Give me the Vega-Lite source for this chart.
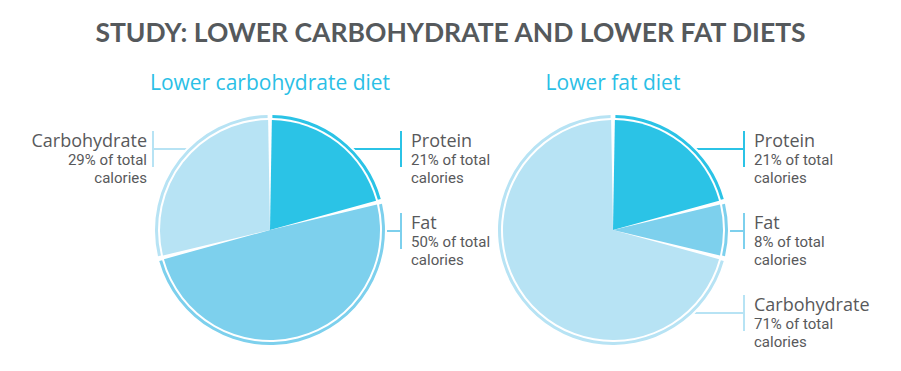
{
  "$schema": "https://vega.github.io/schema/vega-lite/v6.json",
  "width": 901,
  "height": 282,
  "autosize": {"type": "none"},
  "padding": {"top": 89, "left": 0, "right": 0, "bottom": 0},
  "background": "white",
  "title": {
    "text": "STUDY: LOWER CARBOHYDRATE AND LOWER FAT DIETS",
    "anchor": "middle",
    "frame": "group",
    "font": "Lato",
    "fontWeight": "bold",
    "fontSize": 26.5,
    "color": "#55595c",
    "baseline": "alphabetic",
    "offset": 5
  },
  "config": {"view": {"stroke": null}},
  "data": {
    "values": [
      {"diet": "Lower carbohydrate diet", "nutrient": "Protein", "pct": 21, "order": 1, "side": "right", "slot": 1},
      {"diet": "Lower carbohydrate diet", "nutrient": "Fat", "pct": 50, "order": 2, "side": "right", "slot": 2},
      {"diet": "Lower carbohydrate diet", "nutrient": "Carbohydrate", "pct": 29, "order": 3, "side": "left", "slot": 1},
      {"diet": "Lower fat diet", "nutrient": "Protein", "pct": 21, "order": 1, "side": "right", "slot": 1},
      {"diet": "Lower fat diet", "nutrient": "Fat", "pct": 8, "order": 2, "side": "right", "slot": 2},
      {"diet": "Lower fat diet", "nutrient": "Carbohydrate", "pct": 71, "order": 3, "side": "right", "slot": 3}
    ]
  },
  "transform": [
    {"calculate": "[datum.pct + '% of total', 'calories']", "as": "detail"},
    {"stack": "pct", "groupby": ["diet"], "sort": [{"field": "order", "order": "ascending"}], "as": ["t0", "t1"]}
  ],
  "encoding": {
    "x": {"field": "diet", "type": "nominal", "axis": null,
          "scale": {"type": "point", "domain": ["Lower carbohydrate diet", "Lower fat diet"], "range": [270, 613], "padding": 0}}
  },
  "layer": [
    {
      "transform": [{"filter": "datum.side == 'right'"}],
      "mark": {"type": "rule", "strokeWidth": 2, "xOffset": 0, "x2Offset": 131},
      "encoding": {
        "x2": {"field": "diet"},
        "y": {"field": "slot", "type": "ordinal", "axis": null, "scale": {"type": "point", "domain": [1, 2, 3], "range": [60, 224], "padding": 0}},
        "color": {"field": "nutrient", "type": "nominal", "legend": null,
                  "scale": {"domain": ["Protein", "Fat", "Carbohydrate"], "range": ["#2bc3e6", "#7dd0ed", "#b7e3f4"]}}
      }
    },
    {
      "transform": [{"filter": "datum.side == 'left'"}],
      "mark": {"type": "rule", "strokeWidth": 2, "xOffset": 0, "x2Offset": -117},
      "encoding": {
        "x2": {"field": "diet"},
        "y": {"field": "slot", "type": "ordinal"},
        "color": {"field": "nutrient", "type": "nominal"}
      }
    },
    {
      "mark": {"type": "arc", "outerRadius": 117, "color": "white"},
      "encoding": {
        "theta": {"field": "t0", "type": "quantitative", "scale": {"domain": [0, 100]}},
        "theta2": {"field": "t1"}
      }
    },
    {
      "mark": {"type": "arc", "innerRadius": 112, "outerRadius": 115, "padAngle": 0.03},
      "encoding": {
        "theta": {"field": "t0", "type": "quantitative"},
        "theta2": {"field": "t1"},
        "color": {"field": "nutrient", "type": "nominal"}
      }
    },
    {
      "mark": {"type": "arc", "outerRadius": 110, "padAngle": 0.034},
      "encoding": {
        "theta": {"field": "t0", "type": "quantitative"},
        "theta2": {"field": "t1"},
        "color": {"field": "nutrient", "type": "nominal"}
      }
    },
    {
      "transform": [{"filter": "datum.side == 'right'"}],
      "mark": {"type": "rule", "strokeWidth": 2, "xOffset": 131, "yOffset": -18, "y2Offset": 18},
      "encoding": {
        "y": {"field": "slot", "type": "ordinal"},
        "y2": {"field": "slot"},
        "color": {"field": "nutrient", "type": "nominal"}
      }
    },
    {
      "transform": [{"filter": "datum.side == 'left'"}],
      "mark": {"type": "rule", "strokeWidth": 2, "xOffset": -117, "yOffset": -18, "y2Offset": 18},
      "encoding": {
        "y": {"field": "slot", "type": "ordinal"},
        "y2": {"field": "slot"},
        "color": {"field": "nutrient", "type": "nominal"}
      }
    },
    {
      "transform": [{"filter": "datum.side == 'right'"}],
      "mark": {"type": "text", "align": "left", "baseline": "alphabetic", "xOffset": 141, "yOffset": -2, "font": "Open Sans", "fontSize": 18, "color": "#58595b"},
      "encoding": {
        "y": {"field": "slot", "type": "ordinal"},
        "text": {"field": "nutrient"}
      }
    },
    {
      "transform": [{"filter": "datum.side == 'right'"}],
      "mark": {"type": "text", "align": "left", "baseline": "alphabetic", "xOffset": 141, "yOffset": 16, "font": "Roboto", "fontSize": 15, "lineHeight": 18, "color": "#58595b"},
      "encoding": {
        "y": {"field": "slot", "type": "ordinal"},
        "text": {"field": "detail"}
      }
    },
    {
      "transform": [{"filter": "datum.side == 'left'"}],
      "mark": {"type": "text", "align": "right", "baseline": "alphabetic", "xOffset": -123, "yOffset": -2, "font": "Open Sans", "fontSize": 18, "color": "#58595b"},
      "encoding": {
        "y": {"field": "slot", "type": "ordinal"},
        "text": {"field": "nutrient"}
      }
    },
    {
      "transform": [{"filter": "datum.side == 'left'"}],
      "mark": {"type": "text", "align": "right", "baseline": "alphabetic", "xOffset": -123, "yOffset": 16, "font": "Roboto", "fontSize": 15, "lineHeight": 18, "color": "#58595b"},
      "encoding": {
        "y": {"field": "slot", "type": "ordinal"},
        "text": {"field": "detail"}
      }
    },
    {
      "transform": [{"aggregate": [{"op": "count", "as": "n"}], "groupby": ["diet"]}],
      "mark": {"type": "text", "align": "center", "baseline": "alphabetic", "yOffset": -140, "font": "Open Sans", "fontSize": 21, "color": "#2bbfe6"},
      "encoding": {
        "text": {"field": "diet"}
      }
    }
  ]
}
